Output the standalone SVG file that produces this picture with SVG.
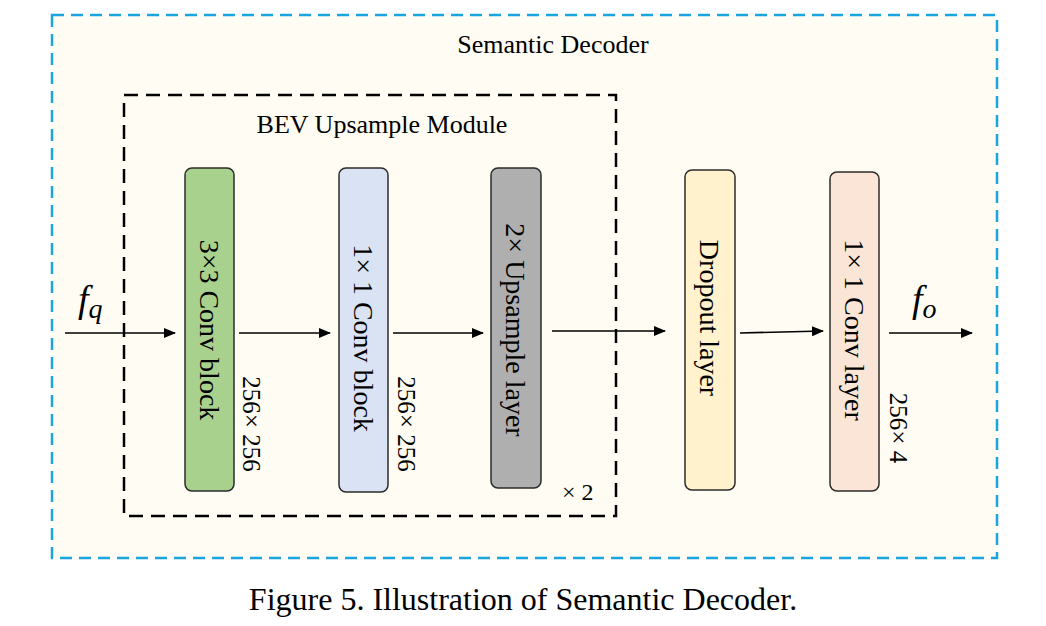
<svg xmlns="http://www.w3.org/2000/svg" width="1046" height="626" viewBox="0 0 1046 626">
<defs>
<marker id="ah" markerWidth="12" markerHeight="10" refX="11" refY="5" orient="auto" markerUnits="userSpaceOnUse"><path d="M0,0 L12,5 L0,10 Z" fill="#000"/></marker>
<style>
text{font-family:'Liberation Serif','Times New Roman',serif;fill:#000}
.blk{stroke:#2b2b2b;stroke-width:1.5}
.c{stroke:#000;stroke-width:1.6;fill:none;marker-end:url(#ah)}
</style>
</defs>
<rect width="1046" height="626" fill="#fff"/>
<g id="outer"><rect x="52" y="15" width="945" height="543" fill="#fefcf3" stroke="#1aa5e0" stroke-width="2.5" stroke-dasharray="12,7"/>
<text font-family="Liberation Serif, serif" x="553" y="53" font-size="26" text-anchor="middle">Semantic Decoder</text></g>
<g id="module"><rect x="124" y="95" width="492" height="421" fill="none" stroke="#000" stroke-width="2.5" stroke-dasharray="14,8"/>
<text font-family="Liberation Serif, serif" x="382" y="133" font-size="26" text-anchor="middle">BEV Upsample Module</text>
<text font-family="Liberation Serif, serif" x="562" y="500" font-size="24">× 2</text></g>
<g id="n1"><rect class="blk" x="185" y="168" width="49" height="323" rx="7" fill="#a9d18e"/><text font-family="Liberation Serif, serif" font-size="28" text-anchor="middle" transform="translate(200,330) rotate(90)">3×3 Conv block</text></g>
<g id="n2"><rect class="blk" x="339" y="168" width="49" height="324" rx="7" fill="#dae3f3"/><text font-family="Liberation Serif, serif" font-size="28" text-anchor="middle" transform="translate(354,338) rotate(90)">1× 1 Conv block</text></g>
<g id="n3"><rect class="blk" x="491" y="168" width="50" height="320" rx="7" fill="#afafaf"/><text font-family="Liberation Serif, serif" font-size="28" text-anchor="middle" transform="translate(506,330) rotate(90)">2× Upsample layer</text></g>
<g id="n4"><rect class="blk" x="685" y="170" width="50" height="320" rx="7" fill="#fff2cc"/><text font-family="Liberation Serif, serif" font-size="28" text-anchor="middle" transform="translate(700,318) rotate(90)">Dropout layer</text></g>
<g id="n5"><rect class="blk" x="830" y="172" width="49" height="319" rx="7" fill="#fbe5d6"/><text font-family="Liberation Serif, serif" font-size="28" text-anchor="middle" transform="translate(845,330) rotate(90)">1× 1 Conv layer</text></g>
<g id="labels">
<text font-family="Liberation Serif, serif" font-size="25" text-anchor="middle" transform="translate(243,424) rotate(90)">256× 256</text>
<text font-family="Liberation Serif, serif" font-size="25" text-anchor="middle" transform="translate(398,424) rotate(90)">256× 256</text>
<text font-family="Liberation Serif, serif" font-size="25" text-anchor="middle" transform="translate(890,428) rotate(90)">256× 4</text>
<text font-family="Liberation Serif, serif" x="78" y="312" font-size="38" font-style="italic">f<tspan font-size="28" dy="6">q</tspan></text>
<text font-family="Liberation Serif, serif" x="912" y="312" font-size="38" font-style="italic">f<tspan font-size="28" dy="6">o</tspan></text>
</g>
<g id="connectors">
<line class="c" x1="65" y1="333" x2="175" y2="333"/>
<line class="c" x1="239" y1="333" x2="330" y2="333"/>
<line class="c" x1="393" y1="333" x2="483" y2="333"/>
<line class="c" x1="552" y1="331" x2="665" y2="331"/>
<line class="c" x1="740" y1="333" x2="823" y2="331"/>
<line class="c" x1="889" y1="333" x2="972" y2="333"/>
</g>
<text font-family="Liberation Serif, serif" x="523" y="610" font-size="32" text-anchor="middle">Figure 5. Illustration of Semantic Decoder.</text>
</svg>
